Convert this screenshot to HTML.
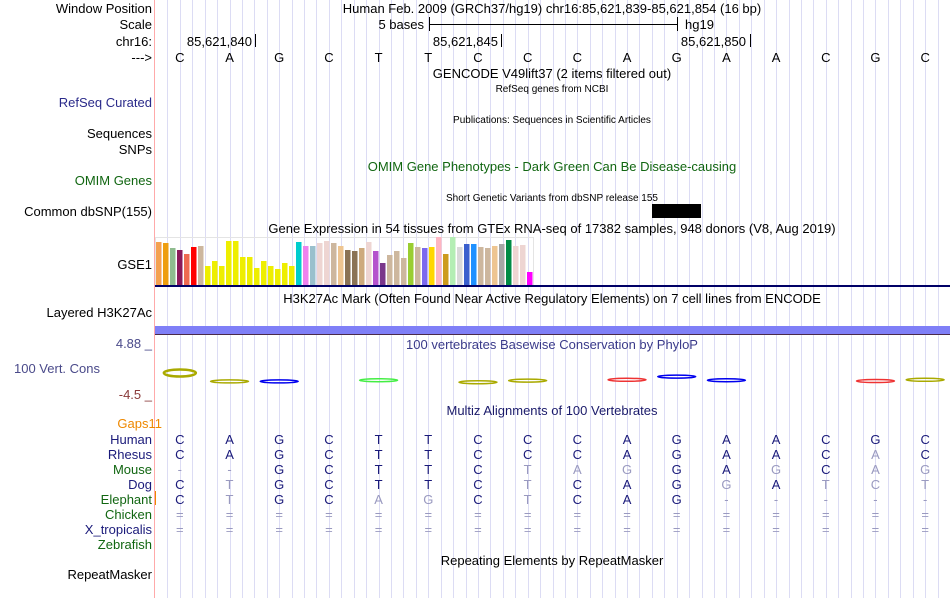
<!DOCTYPE html>
<html><head><meta charset="utf-8"><style>
body{margin:0;width:950px;height:598px;background:#fff;overflow:hidden;font-family:"Liberation Sans",sans-serif;}
svg text{font-family:"Liberation Sans",sans-serif;}
</style></head><body>
<svg id="b" width="950" height="598" xmlns="http://www.w3.org/2000/svg">
<g id="grid"></g>
<line x1="154.5" y1="0" x2="154.5" y2="598" stroke="#ffaaaa"/>
<g font-size="13" text-anchor="end" fill="#000">
<text x="152" y="13">Window Position</text>
<text x="152" y="29">Scale</text>
<text x="152" y="46">chr16:</text>
<text x="152" y="62">---&gt;</text>
<text x="152" y="107" fill="#2a2a8a">RefSeq Curated</text>
<text x="152" y="138">Sequences</text>
<text x="152" y="154">SNPs</text>
<text x="152" y="185" fill="#116611">OMIM Genes</text>
<text x="152" y="216">Common dbSNP(155)</text>
<text x="152" y="269">GSE1</text>
<text x="152" y="317" text-anchor="end">Layered H3K27Ac</text>
<text x="100" y="373" fill="#4a4a8a">100 Vert. Cons</text>
<text x="152" y="348" fill="#4a4a8a">4.88 _</text>
<text x="152" y="399" fill="#8a3a3a">-4.5 _</text>
<text x="162" y="428" fill="#ee8800">Gaps11</text>
<text x="152" y="579">RepeatMasker</text>
</g>
<line x1="155.5" y1="491" x2="155.5" y2="505" stroke="#ee8800"/>
<g id="species" font-size="13" text-anchor="end"></g>
<g font-size="13" text-anchor="middle" fill="#000">
<text x="552" y="13">Human Feb. 2009 (GRCh37/hg19)   chr16:85,621,839-85,621,854 (16 bp)</text>
<text x="424" y="29" text-anchor="end">5 bases</text>
<text x="685" y="29" text-anchor="start">hg19</text>
<text x="252" y="46" text-anchor="end">85,621,840</text>
<text x="498" y="46" text-anchor="end">85,621,845</text>
<text x="746" y="46" text-anchor="end">85,621,850</text>
<text x="552" y="78">GENCODE V49lift37 (2 items filtered out)</text>
<text x="552" y="92" font-size="10">RefSeq genes from NCBI</text>
<text x="552" y="123" font-size="10">Publications: Sequences in Scientific Articles</text>
<text x="552" y="171" fill="#116611">OMIM Gene Phenotypes - Dark Green Can Be Disease-causing</text>
<text x="552" y="201" font-size="10">Short Genetic Variants from dbSNP release 155</text>
<text x="552" y="233">Gene Expression in 54 tissues from GTEx RNA-seq of 17382 samples, 948 donors (V8, Aug 2019)</text>
<text x="552" y="303">H3K27Ac Mark (Often Found Near Active Regulatory Elements) on 7 cell lines from ENCODE</text>
<text x="552" y="349" fill="#3a3a8a">100 vertebrates Basewise Conservation by PhyloP</text>
<text x="552" y="415" fill="#1a1a6a">Multiz Alignments of 100 Vertebrates</text>
<text x="552" y="565">Repeating Elements by RepeatMasker</text>
</g>
<g stroke="#000" stroke-width="1">
<line x1="429.5" y1="17" x2="429.5" y2="31"/><line x1="677.5" y1="17" x2="677.5" y2="31"/><line x1="429" y1="24.5" x2="677" y2="24.5"/>
<line x1="255.5" y1="34" x2="255.5" y2="47"/><line x1="501.5" y1="34" x2="501.5" y2="47"/><line x1="750.5" y1="34" x2="750.5" y2="47"/>
</g>
<rect x="652" y="204" width="49" height="14" fill="#000"/>
<g id="bases" font-size="13" text-anchor="middle"></g>
<rect x="155.5" y="237.5" width="378" height="48" fill="none" stroke="#e4e4e4"/>
<g id="bars"></g>
<rect x="155" y="285" width="795" height="2" fill="#000066"/>
<rect x="155" y="326" width="795" height="8" fill="#7f7ff7"/>
<rect x="155" y="334" width="795" height="1" fill="#4a2a4a"/>
<g id="cons" fill="none"></g>
</svg>
<script>
const baseSeq = ["C","A","G","C","T","T","C","C","C","A","G","A","A","C","G","C"];
const gtexValues = [43,42,37,35,31,38,39,19,24,19,44,44,28,28,17,24,19,16,22,19,43,39,39,42,44,42,39,35,34,37,43,34,22,30,34,27,42,38,37,38,48,31,48,38,41,41,38,37,39,41,45,39,40,13];
const gtexColors = ["#f4a050","#ee9e10","#8fbc8f","#8b1a5a","#ee6a50","#ff0000","#cdb79e","#eeee00","#eeee00","#eeee00","#eeee00","#eeee00","#eeee00","#eeee00","#eeee00","#eeee00","#eeee00","#eeee00","#eeee00","#eeee00","#00cdcd","#ee82ee","#9ac0cd","#eed5d2","#eed5d2","#cdb79e","#eec591","#8b7355","#8b7355","#cdaa7d","#eed5d2","#b452cd","#7a378b","#cdb79e","#cdb79e","#cdb79e","#9acd32","#cdb79e","#7b68ee","#ffd700","#ffb6c1","#cd9b1d","#b4eeb4","#d9d9d9","#3a5fcd","#1e90ff","#cdb79e","#cdb79e","#eec591","#a6a6a6","#008b45","#eed5d2","#eed5d2","#ff00ff"];
const speciesNames = ["Human","Rhesus","Mouse","Dog","Elephant","Chicken","X_tropicalis","Zebrafish"];
const speciesColors = ["#1a1a7a","#1a1a7a","#116611","#1a1a7a","#116611","#116611","#1a1a7a","#116611"];
const alignRows = ["CAGCTTCCCAGAACGC","CAGCTTCCCAGAACAC","--GCTTCTAGGAGCAG","CTGCTTCTCAGGATCT","CTGCAGCTCAG-----","================","================",""];
const alignLight = ["","14","0,1,7,8,9,12,14,15","1,7,11,13,14,15","1,4,5,7,11,12,13,14,15","all","all",""];
const consColors = ["#aaaa00","#aaaa00","#0000ee","","#44ee44","","#aaaa00","#aaaa00","","#ee3333","#0000ee","#0000ee","","","#ee3333","#aaaa00"];
const consValues = [1.5,-0.6,-0.6,0,-0.3,0,-0.8,-0.4,0,-0.2,0.6,-0.3,0,0,-0.5,-0.2];

const NS="http://www.w3.org/2000/svg";
function mk(t,p,a){const e=document.createElementNS(NS,t);for(const k in a)e.setAttribute(k,a[k]);p.appendChild(e);return e;}
const x0=155,bw=(950-155)/16;
function bx(i){return x0+bw*(i+0.5);}
const grid=document.getElementById('grid');
for(let k=1;k<64;k++){const x=Math.round(x0+k*bw/4)+0.5;mk('line',grid,{x1:x,x2:x,y1:0,y2:598,stroke:'#dcdcf4'});}
const bases=document.getElementById('bases');
baseSeq.forEach((b,i)=>{const t=mk('text',bases,{x:bx(i),y:62});t.textContent=b;

});
const bars=document.getElementById('bars');
function gy(v){return 285-v;}
gtexValues.forEach((v,i)=>{const r=mk('rect',bars,{x:156+i*7,y:gy(v),width:5.5,height:285-gy(v),fill:gtexColors[i]});

});
const sp=document.getElementById('species');
speciesNames.forEach((n,r)=>{const y=444+r*15;
const t=mk('text',sp,{x:152,y:y,fill:speciesColors[r]});t.textContent=n;


const row=alignRows[r];const light=alignLight[r]==='all'?null:alignLight[r].split(',').filter(s=>s!=='').map(Number);
for(let i=0;i<row.length;i++){const c=row[i];const isL=light===null||light.includes(i);
const e=mk('text',sp,{x:bx(i),y:y,'text-anchor':'middle',fill:isL?'#9a9ac0':'#1a1a7a'});e.textContent=c;

}});
const cons=document.getElementById('cons');
function cy(v){return 379-v*4;}
consValues.forEach((v,i)=>{if(!consColors[i])return;const big=v>1;
const e=mk('ellipse',cons,{cx:bx(i),cy:cy(v),rx:big?16:19,ry:big?3.5:1.5,stroke:consColors[i],'stroke-width':big?2.5:1.5});

});
</script>
</body></html>
